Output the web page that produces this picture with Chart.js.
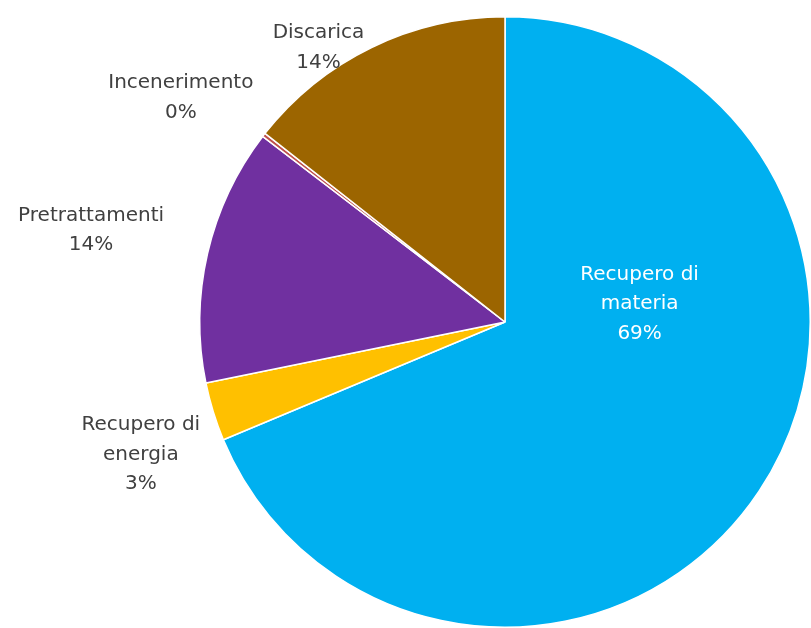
<!DOCTYPE html>
<html>
<head>
<meta charset="utf-8">
<script src="https://cdn.jsdelivr.net/npm/chart.js@4.4.1/dist/chart.umd.min.js"></script>
<style>
  html, body { margin: 0; padding: 0; background: #fff; }
  #wrap { width: 811px; height: 628px; }
</style>
</head>
<body>
<div id="wrap"><canvas id="chartRifiuti" width="811" height="628"></canvas></div>
<script>
// destinazione dei rifiuti, in senso orario dalle ore 12
const categorie = ['Recupero di materia', 'Recupero di energia', 'Pretrattamenti', 'Incenerimento', 'Discarica'];
const valori = [68.7, 3.1, 13.6, 0.2, 14.4];
const percentuali = ['69%', '3%', '14%', '0%', '14%'];
const colori = ['#00B0F0', '#FFC000', '#7030A0', '#C0504D', '#9C6500'];

// righe di ogni etichetta
const righe = [
  ['Recupero di', 'materia'],
  ['Recupero di', 'energia'],
  ['Pretrattamenti'],
  ['Incenerimento'],
  ['Discarica']
];
// posizione del centro etichetta, in raggi dal centro della torta
const posEtichette = [[0.441, -0.059], [-1.193, 0.435], [-1.356, -0.301], [-1.062, -0.735], [-0.611, -0.899]];
const coloreTesto = ['#ffffff', '#404040', '#404040', '#404040', '#404040'];

const etichette = {
  id: 'etichette',
  afterDatasetsDraw(chart) {
    const ctx = chart.ctx;
    const arcs = chart.getDatasetMeta(0).data;
    ctx.save();
    ctx.font = '20px "DejaVu Sans"';
    ctx.textAlign = 'center';
    ctx.textBaseline = 'middle';
    arcs.forEach((arc, i) => {
      const r = arc.outerRadius;
      const cx = arc.x + posEtichette[i][0] * r;
      const cy = arc.y + posEtichette[i][1] * r;
      const linee = righe[i].concat([percentuali[i]]);
      const h = 29.5;
      const y0 = cy - (linee.length - 1) * h / 2;
      ctx.fillStyle = coloreTesto[i];
      linee.forEach((t, k) => ctx.fillText(t, cx, y0 + k * h));
    });
    ctx.restore();
  }
};

const ctx = document.getElementById('chartRifiuti');

new Chart(ctx, {
  type: 'pie',
  data: {
    labels: categorie,
    datasets: [{
      data: valori,
      backgroundColor: colori,
      borderColor: '#ffffff',
      borderWidth: 1.5
    }]
  },
  options: {
    responsive: false,
    animation: false,
    layout: { padding: { left: 199, right: 0, top: 16, bottom: 0 } },
    plugins: {
      legend: { display: false },
      tooltip: { enabled: false }
    }
  },
  plugins: [etichette]
});
</script>
</body>
</html>
